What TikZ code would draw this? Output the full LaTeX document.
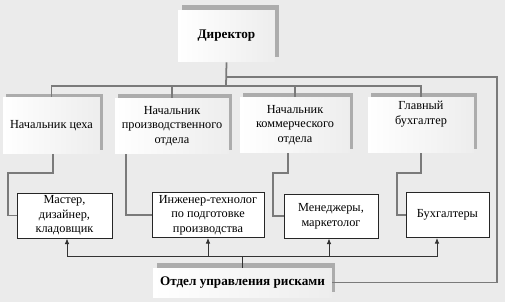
\documentclass[tikz,border=0pt]{standalone}
\usepackage{fontspec}
\setmainfont{Liberation Serif}
\usepackage{tikz}
\usetikzlibrary{shapes.geometric, arrows.meta, positioning, calc, shadows}
\definecolor{bgcol}{HTML}{EBEBEB}
\definecolor{linkcol}{HTML}{7A7A7A}
\tikzset{
    boss/.style={rectangle, left color=white, right color=gray!14, align=center, inner sep=1pt,
        drop shadow={shadow xshift=2pt, shadow yshift=2.6pt, fill=gray!65, opacity=1},
        font=\fontsize{7.5}{9}\selectfont\bfseries},
    head/.style={rectangle, left color=white, right color=gray!14, align=center, inner sep=1pt,
        minimum height=1.12cm,
        drop shadow={shadow xshift=1.8pt, shadow yshift=2pt, fill=gray!65, opacity=1},
        font=\fontsize{7}{8.3}\selectfont},
    staff/.style={rectangle, draw=black!85, line width=0.45pt, fill=white, align=center, inner sep=1pt,
        minimum height=0.9cm, font=\fontsize{7}{8.3}\selectfont},
    link/.style={draw=linkcol, line width=1pt},
    arrow/.style={line width=0.55pt, draw=black!80, -{Latex[length=3.2pt,width=2.6pt]}}
}
\begin{document}
\begin{tikzpicture}[x=0.02cm, y=-0.02cm]
        \fill[bgcol] (0,0) rectangle (505,302);
        \useasboundingbox (0,0) rectangle (505,302);
        % top
        \node[boss, minimum width=1.94cm, minimum height=1.04cm] (dir) at (226.5,36) {Директор};
        % heads
        \node[head, minimum width=1.94cm] (cex) at (51.5,125.5) {Начальник цеха};
        \node[head, minimum width=2.28cm] (prod) at (172,126) {Начальник\\производственного\\отдела};
        \node[head, minimum width=2.2cm] (komm) at (295,125) {Начальник\\коммерческого\\отдела};
        \node[head, minimum width=2.12cm, text depth=14pt] (glav) at (421,125) {Главный\\бухгалтер};
        % staff
        \node[staff, minimum width=1.9cm] (master) at (64.5,215.5) {Мастер,\\дизайнер,\\кладовщик};
        \node[staff, minimum width=2.24cm] (ing) at (208,215) {Инженер-технолог\\по подготовке\\производства};
        \node[staff, minimum width=1.88cm, minimum height=0.88cm] (men) at (331,216) {Менеджеры,\\маркетолог};
        \node[staff, minimum width=1.66cm] (buh) at (447.5,215) {Бухгалтеры};
        % risks
        \node[boss, minimum width=3.58cm, minimum height=0.58cm] (risk) at (242.5,282.5) {Отдел управления рисками};
        % bus points
        \coordinate (dbus) at (226,86);
        \coordinate (dtap) at (226,77);
        \coordinate (redge) at (497,282.5);
        \coordinate (c1) at (8,173);
        \coordinate (k1) at (273,173);
        \coordinate (g1) at (397,173);
        \coordinate (rbus) at (242.5,256);

        \draw[link] (dir.south) -- (dbus);
        \draw[link] (dbus) -| (cex.north);
        \draw[link] (dbus) -| (prod.north);
        \draw[link] (dbus) -| (komm.north);
        \draw[link] (dbus) -| (glav.north);
        \draw[link] (dtap) -| (redge) -- (risk.east);

        \draw[link] ([xshift=0.03cm]cex.south) |- (c1) |- (master.west);
        \draw[link] ([xshift=-0.92cm]prod.south) |- (ing.west);
        \draw[link] ([xshift=-0.14cm]komm.south) |- (k1) |- (men.west);
        \draw[link] (glav.south) |- (g1) |- (buh.west);

        \draw[line width=0.55pt, draw=black!80] (risk.north) -- (rbus);
        \draw[arrow] (rbus) -| ([xshift=0.05cm]master.south);
        \draw[arrow] (rbus) -| (ing.south);
        \draw[arrow] (rbus) -| ([xshift=-0.04cm]men.south);
        \draw[arrow] (rbus) -| ([xshift=-0.21cm]buh.south);
    \end{tikzpicture}
\end{document}
